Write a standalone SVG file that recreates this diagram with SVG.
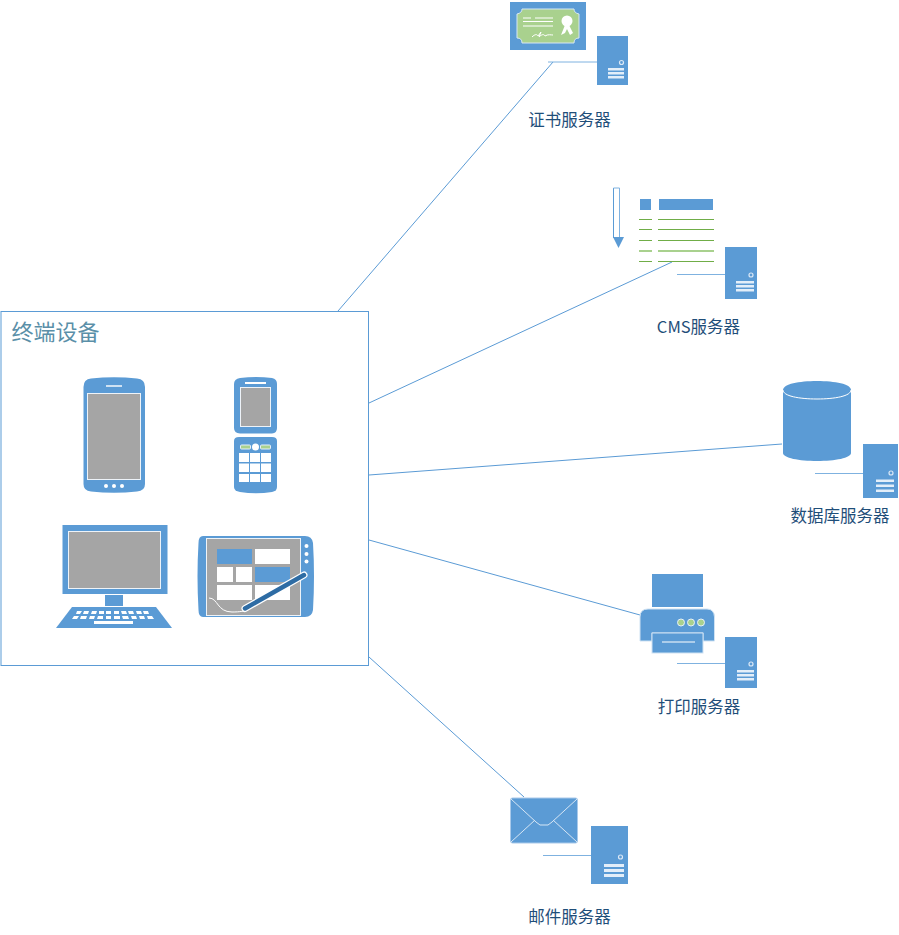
<svg xmlns="http://www.w3.org/2000/svg" width="899" height="935" viewBox="0 0 899 935">
<style>
.b{fill:#5b9bd5}
.w{fill:#fff}
.g{fill:#a5a5a5;stroke:#eef3f8;stroke-width:1}
.gr{fill:#a9d18e}
.wl{stroke:#fff;stroke-width:1;fill:none}
.bar{fill:#e3eef9}
.sc{fill:none;stroke:#dbe8f6;stroke-width:1.200}
.led{fill:#a9d18e;stroke:#e6f0fa;stroke-width:1}
.lead{stroke:#7fb2e0;stroke-width:1;fill:none}
.con{stroke:#5b9bd5;stroke-width:1;fill:none}
.gl{stroke:#70ad47;stroke-width:1;fill:none}
.lab{font-family:"Noto Sans CJK SC","Noto Sans",sans-serif;font-size:16.500px;fill:#1f4e79;text-anchor:middle}
.tit{font-family:"Noto Sans CJK SC","Noto Sans",sans-serif;font-size:22px;fill:#5a8fa8}
</style>
<rect width="899" height="935" fill="#fff"/>
<g id="connectors">
<path class="con" d="M338 311L553 62"/>
<path class="con" d="M369 403L672 262"/>
<path class="con" d="M369 475L782 444"/>
<path class="con" d="M369 540L640 615"/>
<path class="con" d="M369 657L524 797"/>
<path class="lead" stroke-width="1.500" d="M548 62H597"/>
<path class="lead" d="M677 274.500H725"/>
<path class="lead" d="M815 473.500H863"/>
<path class="lead" d="M677 663.500H725"/>
<path class="lead" d="M543 855.500H591"/>
</g>
<g id="terminal">
<rect x="1" y="311.500" width="367.500" height="354" fill="#fff" stroke="#5b9bd5"/>
<text class="tit" x="11.500" y="339.500">终端设备</text>
<g id="smartphone">
<path class="b" d="M83.500 387Q83.500 379 91 378.500Q114 376 137 378.500Q145 379 145 387V484Q145 491 137 491.500Q114 494 91 491.500Q83.500 491 83.500 484Z"/>
<rect class="g" x="87.500" y="393.500" width="53" height="86"/>
<rect x="106" y="385" width="16" height="2" fill="#cfe2f3"/>
<circle class="w" cx="106" cy="486" r="2"/><circle class="w" cx="114" cy="486" r="2"/><circle class="w" cx="122" cy="486" r="2"/>
</g>
<g id="flip-phone">
<path class="b" d="M234 384Q234 379 240 378Q256 376 272 378Q277 379 277 384V428Q277 433 272 433.500H240Q234 433 234 428Z"/>
<rect x="245" y="382" width="21" height="2" class="w"/>
<rect class="g" x="240.500" y="387.500" width="30" height="39"/>
<path class="b" d="M234 441Q234 437 239 437H272Q277 437 277 441V487Q277 491 272 492Q256 494.500 240 492Q234 491 234 487Z"/>
<rect class="gr" x="240.500" y="445" width="10" height="4" rx="1" stroke="#e6f0fa"/>
<rect class="gr" x="260.500" y="445" width="10" height="4" rx="1" stroke="#e6f0fa"/>
<circle class="w" cx="255.500" cy="447" r="3.500"/>
<rect class="w" x="239" y="453" width="10" height="9"/><rect class="w" x="250" y="453" width="10" height="9"/><rect class="w" x="261" y="453" width="10" height="9"/>
<rect class="w" x="239" y="463.500" width="10" height="8.500"/><rect class="w" x="250" y="463.500" width="10" height="8.500"/><rect class="w" x="261" y="463.500" width="10" height="8.500"/>
<rect class="w" x="239" y="474" width="10" height="8"/><rect class="w" x="250" y="474" width="10" height="8"/><rect class="w" x="261" y="474" width="10" height="8"/>
</g>
<g id="desktop">
<rect class="b" x="62.500" y="525" width="105" height="69"/>
<rect class="g" x="68.500" y="531.500" width="92" height="57"/>
<rect class="b" x="105" y="595" width="18" height="11"/>
<path class="b" d="M72 607H156L172 628H56Z"/>
<g class="w">
<path d="M77 611H82L80 614H76ZM84 611H89L88 614H83ZM92 611H97L96 614H91ZM99 611H104L104 614H99ZM106 611H111L111 614H106ZM114 611H119L119 614H114ZM121 611H126L127 614H122ZM128 611H133L134 614H129ZM136 611H141L142 614H137ZM143 611H148L149 614H144Z"/>
<path d="M74 616H79L77 619H72ZM81 616H87L86 619H80ZM90 616H95L94 619H89ZM98 616H103L103 619H97ZM106 616H111L111 619H106ZM114 616H120L120 619H114ZM122 616H128L129 619H123ZM131 616H136L137 619H132ZM139 616H144L145 619H140ZM147 616H152L154 619H148Z"/>
<rect x="94" y="621" width="39" height="3"/>
</g>
</g>
<g id="tablet">
<path class="b" d="M203 536H305Q312 536 313 543Q315 576 313 610Q312 617 305 617H203Q198.500 617 198.500 610Q196.500 576 198.500 543Q198.500 536 203 536Z"/>
<rect class="g" x="206.500" y="538.500" width="94" height="77"/>
<circle class="w" cx="306.500" cy="546" r="2"/><circle class="w" cx="306.500" cy="554" r="2"/><circle class="w" cx="306.500" cy="561.500" r="2"/>
<rect class="b" x="217" y="549" width="35" height="15"/><rect class="w" x="255" y="549" width="35" height="15"/>
<rect class="w" x="217" y="567" width="16" height="15"/><rect class="w" x="236" y="567" width="16" height="15"/><rect class="b" x="255" y="567" width="35" height="15"/>
<rect class="w" x="217" y="585" width="35" height="15"/><rect class="w" x="255" y="585" width="35" height="15"/>
<path d="M209 598C218 598 217 612 232 612C240 612 245 611 248 610" stroke="#fff" fill="none"/>
<path d="M245 608.500L304 575" stroke="#fff" stroke-width="7" stroke-linecap="round"/>
<path d="M245 608.500L304 575" stroke="#2e6ca4" stroke-width="4.500" stroke-linecap="round"/>
</g>
</g>
<g id="cert-server">
<rect class="b" x="510" y="2" width="76" height="48"/>
<path class="gr" stroke="#d6e6f5" d="M522 9H574Q574 13 579 14V38Q574 38 574 43H522Q522 38 517 38V14Q522 13 522 9Z"/>
<path class="wl" d="M523 18H531M535 18H553M523 21.500H553M523 26H553"/>
<path class="wl" d="M532 37C535 34 537 34 538 36L541 32L539 37C542 34 544 34 545 36C548 34 551 35 553 35"/>
<circle class="w" cx="567" cy="21" r="5.500"/>
<path class="w" d="M565 25L561 35L565 33L567 29L570 35L573 33L569 25Z"/>
<rect class="b" x="597" y="36" width="31" height="49"/>
<circle class="sc" cx="621.500" cy="62.500" r="2"/>
<rect class="bar" x="608" y="68" width="16" height="2.500"/><rect class="bar" x="608" y="72" width="16" height="2.500"/><rect class="bar" x="608" y="76" width="16" height="2.500"/>
<text class="lab" x="569.500" y="125.500">证书服务器</text>
</g>
<g id="cms-server">
<path fill="none" stroke="#5b9bd5" d="M613.500 188V238"/><path fill="none" stroke="#7fb2e0" d="M613.500 188H619.500V238"/>
<path class="b" d="M613 237H624L618.500 248Z"/>
<rect class="b" x="640" y="199" width="11" height="11"/><rect class="b" x="659" y="199" width="54" height="11"/>
<path class="gl" d="M639 219.500H652M658 219.500H714M639 229.500H652M658 229.500H714M639 240.500H652M658 240.500H714M639 261.500H652M658 261.500H714"/>
<path stroke="#a9d18e" stroke-width="2" fill="none" d="M639 251H652M658 251H714"/>
<rect class="b" x="725" y="247" width="32" height="52"/>
<circle class="sc" cx="751" cy="275" r="2"/>
<rect class="bar" x="736" y="281" width="18" height="2.500"/><rect class="bar" x="736" y="285" width="18" height="2.500"/><rect class="bar" x="736" y="289" width="18" height="2.500"/>
<text class="lab" x="698.500" y="332.500">CMS服务器</text>
</g>
<g id="db-server">
<path class="b" d="M783 390C783 384 799 381 817 381C835 381 851 384 851 390V453C851 458 835 461 817 461C799 461 783 458 783 453Z"/>
<path class="wl" d="M783 390C783 396 799 399 817 399C835 399 851 396 851 390"/>
<rect class="b" x="863" y="444" width="35" height="54"/>
<circle class="sc" cx="891" cy="473" r="2"/>
<rect class="bar" x="876" y="479.500" width="18" height="2.500"/><rect class="bar" x="876" y="484.500" width="18" height="2.500"/><rect class="bar" x="876" y="489.500" width="18" height="2.500"/>
<text class="lab" x="840" y="521.500">数据库服务器</text>
</g>
<g id="print-server">
<rect class="b" x="652" y="574" width="51" height="33"/>
<path class="b" stroke="#cfe2f3" d="M640 641V617Q640 609 648 609H707Q714 609 714.500 617V641H703V633H652V641Z"/>
<rect class="b" x="652" y="633" width="51" height="20" stroke="#cfe2f3"/>
<path class="wl" d="M662 642H695"/>
<circle class="led" cx="681" cy="622.500" r="3.500"/><circle class="led" cx="691" cy="622.500" r="3.500"/><circle class="led" cx="701" cy="622.500" r="3.500"/>
<rect class="b" x="725" y="637" width="32" height="51"/>
<circle class="sc" cx="751" cy="664" r="2"/>
<rect class="bar" x="737" y="670" width="17" height="2.500"/><rect class="bar" x="737" y="674" width="17" height="2.500"/><rect class="bar" x="737" y="678" width="17" height="2.500"/>
<text class="lab" x="699" y="712.500">打印服务器</text>
</g>
<g id="mail-server">
<rect class="b" x="510.500" y="798" width="67" height="45" rx="2" stroke="#a9c9ea"/>
<path stroke="#d6e6f5" fill="none" d="M511 799L536 822L540 825H548L552 822L577 799M511 842L535 820M577 842L553 820"/>
<rect class="b" x="591" y="826" width="37" height="58"/>
<circle class="sc" cx="620.500" cy="857" r="2"/>
<rect class="bar" x="604" y="864" width="20" height="3"/><rect class="bar" x="604" y="869" width="20" height="3"/><rect class="bar" x="604" y="874" width="20" height="3"/>
<text class="lab" x="569.500" y="922.500">邮件服务器</text>
</g>
</svg>
